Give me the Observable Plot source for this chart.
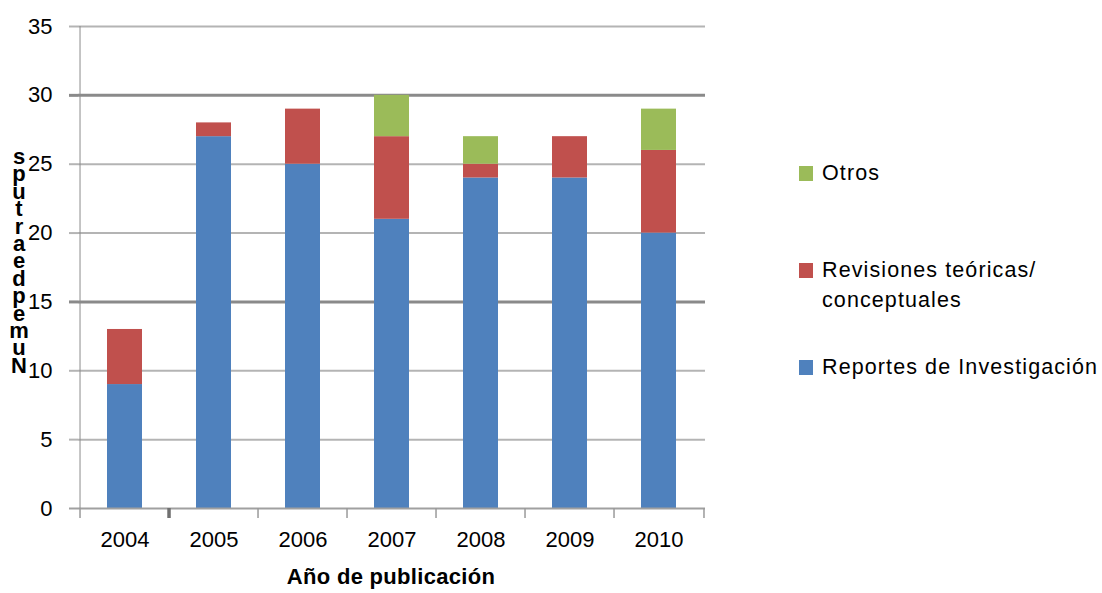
<!DOCTYPE html>
<html><head><meta charset="utf-8">
<script src="https://cdn.jsdelivr.net/npm/d3@7"></script>
<script src="https://cdn.jsdelivr.net/npm/@observablehq/plot@0.6"></script>
<style>
body{margin:0;background:#fff;font-family:"Liberation Sans",Arial,sans-serif;}
#wrap{position:relative;width:1102px;height:593px;overflow:hidden;}
#ylab{position:absolute;left:8px;top:148px;width:22px;text-align:center;font-weight:bold;font-size:22px;line-height:17.4px;color:#000;}
#xlab{position:absolute;left:191px;width:400px;top:564px;text-align:center;font-weight:bold;font-size:22px;letter-spacing:0.3px;color:#000;}
.leg{position:absolute;left:799px;font-size:21.5px;letter-spacing:1.1px;color:#000;line-height:30px;}
.sw{position:absolute;left:0;width:14px;height:15px;}
.lt{position:absolute;left:23px;white-space:nowrap;}
</style>
</head><body>
<div id="wrap"></div>
<script>
const years = ["2004","2005","2006","2007","2008","2009","2010"];
const series = ["Reportes de Investigación","Revisiones teóricas/ conceptuales","Otros"];
const reportes = [9,27,25,21,24,24,20];
const revisiones = [4,1,4,6,1,3,6];
const otros = [0,0,0,3,2,0,3];
const colors = ["#4F81BD","#C0504D","#9BBB59"];
const yTicks = [0,5,10,15,20,25,30,35];
const lightGrid = [5,10,20,25,35];
const darkGrid = [15,30];
const xTitle = "Año de publicación";
const yTitleLetters = ["s","p","u","t","r","a","e","d","p","e","m","u","N"];

const W=1102,H=593,mL=78,mR=397,mT=26,mB=85;
const pIn=0.61, pOut=0.29;
const step=(W-mL-mR)/(years.length-pIn+2*pOut);
const tickDepth = 10*35/(H-mT-mB);

const data = years.flatMap((y,i)=>[
  {year:y, serie:series[0], value:reportes[i]},
  {year:y, serie:series[1], value:revisiones[i]},
  {year:y, serie:series[2], value:otros[i]}
]);

const plot = Plot.plot({
  width:W, height:H, marginLeft:mL, marginRight:mR, marginTop:mT, marginBottom:mB,
  style:{fontFamily:'"Liberation Sans",Arial,sans-serif', fontSize:"22px", color:"#000", background:"#fff", overflow:"visible"},
  x:{domain:years, paddingInner:pIn, paddingOuter:pOut, axis:null, label:null},
  y:{domain:[0,35], axis:null, label:null},
  color:{domain:series, range:colors},
  marks:[
    Plot.ruleY(lightGrid,{stroke:"#b4b4b4", strokeWidth:2}),
    Plot.axisY(lightGrid,{tickSize:9, tickFormat:()=>"", label:null, stroke:"#b4b4b4", strokeWidth:2}),
    Plot.ruleY(darkGrid,{stroke:"#8a8a8a", strokeWidth:3}),
    Plot.axisY(darkGrid,{tickSize:9, tickFormat:()=>"", label:null, stroke:"#8a8a8a", strokeWidth:3}),
    Plot.axisY(yTicks,{tickSize:0, tickPadding:26, fontSize:22, label:null}),
    Plot.barY(data,{x:"year", y:"value", fill:"serie", z:"serie", order:null}),
    Plot.ruleY([0],{stroke:"#a0a0a0", strokeWidth:2}),
    Plot.axisY([0],{tickSize:9, tickFormat:()=>"", label:null, stroke:"#a0a0a0", strokeWidth:2}),
    Plot.ruleX([years[0]],{dx:-step/2, y1:0, y2:35, stroke:"#8c8c8c", strokeWidth:1}),
    Plot.ruleX(years,{dx:-step/2, y1:0, y2:-tickDepth, stroke:"#9a9a9a", strokeWidth:1.5}),
    Plot.ruleX([years[years.length-1]],{dx:step/2, y1:0, y2:-tickDepth, stroke:"#9a9a9a", strokeWidth:1.5}),
    Plot.ruleX([years[1]],{dx:-step/2, y1:0, y2:-tickDepth, stroke:"#707070", strokeWidth:3.5}),
    Plot.axisX(years,{tickSize:0, tickPadding:23, fontSize:22, letterSpacing:0.6, label:null})
  ]
});
const wrap=document.getElementById("wrap");
wrap.appendChild(plot);

const yl=document.createElement("div"); yl.id="ylab";
yl.innerHTML=yTitleLetters.join("<br>"); wrap.appendChild(yl);
const xl=document.createElement("div"); xl.id="xlab"; xl.textContent=xTitle; wrap.appendChild(xl);

const legItems=[
  {color:colors[2], top:158, lines:["Otros"]},
  {color:colors[1], top:255, lines:["Revisiones teóricas/","conceptuales"]},
  {color:colors[0], top:352, lines:["Reportes de Investigación"]}
];
for(const it of legItems){
  const d=document.createElement("div"); d.className="leg"; d.style.top=it.top+"px";
  const s=document.createElement("div"); s.className="sw"; s.style.background=it.color; s.style.top="8px";
  const t=document.createElement("div"); t.className="lt"; t.innerHTML=it.lines.join("<br>");
  d.appendChild(s); d.appendChild(t); wrap.appendChild(d);
}
</script>
</body></html>
